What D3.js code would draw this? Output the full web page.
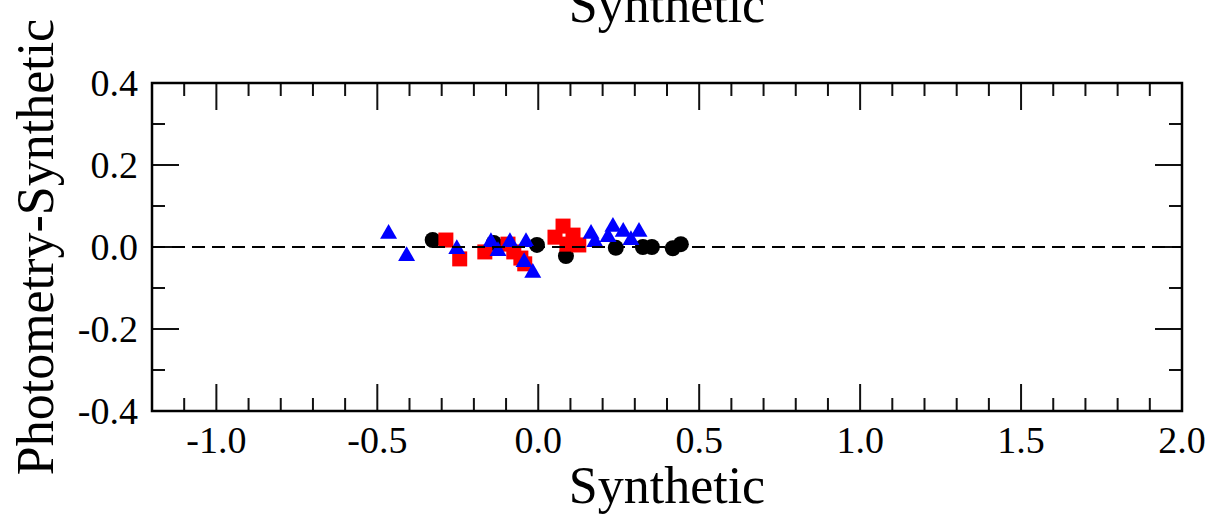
<!DOCTYPE html>
<html>
<head>
<meta charset="utf-8">
<script src="https://cdn.jsdelivr.net/npm/d3@7"></script>
<style>
  html, body { margin: 0; padding: 0; background: #fff; }
  svg text { font-family: "Liberation Serif", "Times New Roman", serif; fill: #000; }
</style>
</head>
<body>
<div id="chart"></div>
<script>
// Synthetic vs (Photometry - Synthetic)
const xTickLabels = [-1.0, -0.5, 0.0, 0.5, 1.0, 1.5, 2.0];
const yTickLabels = [-0.4, -0.2, 0.0, 0.2, 0.4];

const blackCircles = [
    [-0.328, 0.017], [-0.138, 0.010], [-0.004, 0.005], [0.086, -0.022],
    [0.241, -0.002], [0.325, 0.000], [0.353, 0.000], [0.418, -0.003], [0.443, 0.007]
];
const redSquares = [
    [-0.287, 0.017], [-0.244, -0.029], [-0.166, -0.012], [-0.094, 0.007],
    [-0.076, -0.012], [-0.054, -0.027], [-0.042, -0.041], [0.077, 0.051],
    [0.052, 0.024], [0.108, 0.029], [0.089, 0.007], [0.126, 0.005]
];
const blueTriangles = [
    [-0.465, 0.032], [-0.409, -0.022], [-0.253, -0.005], [-0.147, 0.012],
    [-0.125, -0.010], [-0.088, 0.012], [-0.038, 0.012], [-0.044, -0.037],
    [-0.017, -0.063], [0.164, 0.032], [0.176, 0.012], [0.232, 0.049],
    [0.217, 0.024], [0.264, 0.037], [0.313, 0.037], [0.288, 0.017]
];

const W = 1212, H = 515;
const m = { left: 152, right: 30, top: 83, bottom: 104 };
const iw = W - m.left - m.right, ih = H - m.top - m.bottom;

const svg = d3.select('#chart').append('svg').attr('width', W).attr('height', H);
const g = svg.append('g').attr('transform', `translate(${m.left},${m.top})`);

const x = d3.scaleLinear().domain([-1.2, 2.0]).range([0, iw]);
const y = d3.scaleLinear().domain([-0.4, 0.4]).range([ih, 0]);

// minor/major ticks on all four sides, pointing inward
const xMinor = d3.range(-11, 20).map(i => i / 10);
const yMinor = d3.range(-3, 4).map(i => i / 10);
const isMajorX = v => Math.abs(v * 2 - Math.round(v * 2)) < 1e-6;
const isMajorY = v => Math.abs(v * 5 - Math.round(v * 5)) < 1e-6;

g.selectAll('.xt-b').data(xMinor).enter().append('line')
    .attr('x1', d => x(d)).attr('x2', d => x(d))
    .attr('y1', ih).attr('y2', d => ih - (isMajorX(d) ? 27 : 13))
    .attr('stroke', '#111').attr('stroke-width', 2);
g.selectAll('.xt-t').data(xMinor).enter().append('line')
    .attr('x1', d => x(d)).attr('x2', d => x(d))
    .attr('y1', 0).attr('y2', d => (isMajorX(d) ? 27 : 13))
    .attr('stroke', '#111').attr('stroke-width', 2);
g.selectAll('.yt-l').data(yMinor).enter().append('line')
    .attr('y1', d => y(d)).attr('y2', d => y(d))
    .attr('x1', 0).attr('x2', d => (isMajorY(d) ? 27 : 13))
    .attr('stroke', '#111').attr('stroke-width', 2);
g.selectAll('.yt-r').data(yMinor).enter().append('line')
    .attr('y1', d => y(d)).attr('y2', d => y(d))
    .attr('x1', iw).attr('x2', d => iw - (isMajorY(d) ? 27 : 13))
    .attr('stroke', '#111').attr('stroke-width', 2);

// tick labels
g.selectAll('.xl').data(xTickLabels).enter().append('text')
    .attr('x', d => x(d)).attr('y', ih + 42)
    .attr('text-anchor', 'middle').attr('font-size', '38px')
    .text(d => d3.format('.1f')(d).replace('−', '-'));
g.selectAll('.yl').data(yTickLabels).enter().append('text')
    .attr('x', -14).attr('y', d => y(d) + 13)
    .attr('text-anchor', 'end').attr('font-size', '38px')
    .text(d => d3.format('.1f')(d).replace('−', '-'));

// markers
g.selectAll('.circ').data(blackCircles).enter().append('circle')
    .attr('cx', d => x(d[0])).attr('cy', d => y(d[1])).attr('r', 8)
    .attr('fill', '#000');
g.selectAll('.sq').data(redSquares).enter().append('rect')
    .attr('x', d => x(d[0]) - 7.5).attr('y', d => y(d[1]) - 7.5)
    .attr('width', 15).attr('height', 15).attr('fill', '#ff0000');
const tri = d3.symbol().type(d3.symbolTriangle).size(125);
g.selectAll('.tri').data(blueTriangles).enter().append('path')
    .attr('d', tri)
    .attr('transform', d => `translate(${x(d[0])},${y(d[1])})`)
    .attr('fill', '#0000ff');

// zero line
g.append('line')
    .attr('x1', 0).attr('x2', iw).attr('y1', y(0)).attr('y2', y(0))
    .attr('stroke', '#000').attr('stroke-width', 2).attr('stroke-dasharray', '13,7');

// frame
g.append('rect').attr('x', 0).attr('y', 0).attr('width', iw).attr('height', ih)
    .attr('fill', 'none').attr('stroke', '#000').attr('stroke-width', 2.5);

// titles (top one is clipped by the page edge, as in the source figure)
svg.append('text').attr('x', m.left + iw / 2).attr('y', 22)
    .attr('text-anchor', 'middle').attr('font-size', '52px').text('Synthetic');
svg.append('text').attr('x', m.left + iw / 2).attr('y', 503)
    .attr('text-anchor', 'middle').attr('font-size', '52px').text('Synthetic');
svg.append('text')
    .attr('transform', `translate(53,${m.top + ih / 2}) rotate(-90)`)
    .attr('text-anchor', 'middle').attr('font-size', '52px').text('Photometry-Synthetic');
</script>
</body>
</html>
